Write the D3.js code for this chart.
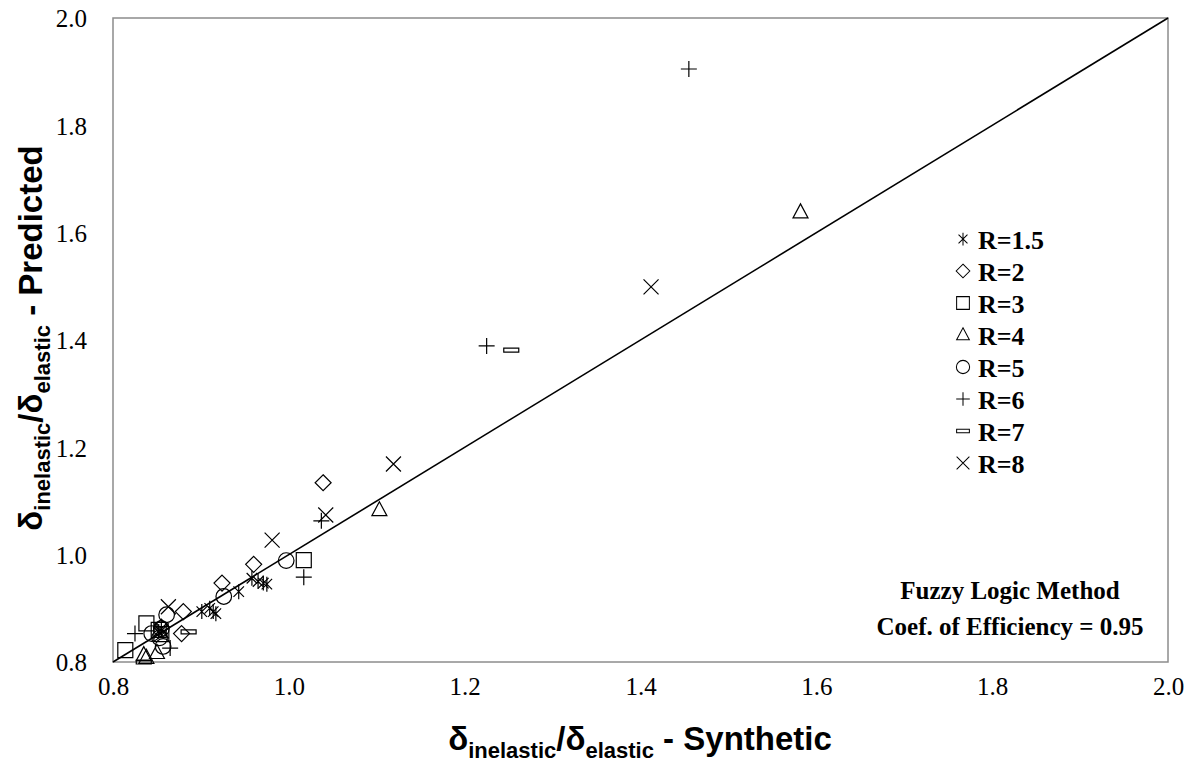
<!DOCTYPE html>
<html><head><meta charset="utf-8">
<script src="https://cdn.jsdelivr.net/npm/d3@7/dist/d3.min.js"></script>
<style>
html,body{margin:0;padding:0;background:#fff;}
svg{display:block;}
</style></head>
<body>
<svg id="chart" width="1193" height="765"></svg>
<script>
// ---- data ----
const tickValues = [0.8, 1.0, 1.2, 1.4, 1.6, 1.8, 2.0];
const seriesNames = ["R=1.5", "R=2", "R=3", "R=4", "R=5", "R=6", "R=7", "R=8"];
const seriesShapes = ["asterisk", "diamond", "square", "triangle", "circle", "plus", "dash", "cross"];
const r15 = [[0.958,0.956],[0.965,0.950],[0.971,0.947],[0.975,0.945],[0.943,0.931],[0.910,0.900],[0.901,0.894],[0.914,0.894],[0.917,0.890],[0.855,0.862],[0.852,0.857]];
const r2  = [[1.039,1.134],[0.960,0.982],[0.924,0.947],[0.880,0.894],[0.878,0.853],[0.855,0.865]];
const r3  = [[1.017,0.990],[0.838,0.872],[0.814,0.822],[0.852,0.860],[0.855,0.852]];
const r4  = [[1.582,1.638],[1.103,1.083],[0.835,0.813],[0.850,0.817],[0.838,0.808]];
const r5  = [[0.997,0.989],[0.926,0.922],[0.861,0.888],[0.844,0.853],[0.857,0.829],[0.855,0.862],[0.853,0.845]];
const r6  = [[1.455,1.905],[1.225,1.389],[1.037,1.063],[1.017,0.958],[0.825,0.853],[0.865,0.826]];
const r7  = [[1.253,1.381],[0.886,0.856],[0.835,0.800]];
const r8  = [[1.412,1.499],[1.119,1.169],[1.042,1.074],[0.981,1.027],[0.863,0.903],[0.855,0.858]];
const seriesValues = [r15, r2, r3, r4, r5, r6, r7, r8];
const lineOfEquality = [[0.8,0.8],[2.0,2.0]];
const annotation = ["Fuzzy Logic Method", "Coef. of Efficiency = 0.95"];

// ---- layout ----
const svg = d3.select("#chart");
const L = 113, R = 1168, T = 18, B = 662;
const x = d3.scaleLinear().domain([0.8, 2.0]).range([L, R]);
const y = d3.scaleLinear().domain([0.8, 2.0]).range([B, T]);
const serif = '"Liberation Serif","Times New Roman",serif';

function shapePath(s) {
  const p = d3.path();
  switch (s) {
    case "asterisk": {
      const a = 7.5;
      p.moveTo(-a*0.7,-a*0.7); p.lineTo(a*0.7,a*0.7);
      p.moveTo(a*0.7,-a*0.7); p.lineTo(-a*0.7,a*0.7);
      p.moveTo(0,-a); p.lineTo(0,a);
      break; }
    case "diamond": { const a = 8; p.moveTo(0,-a); p.lineTo(a,0); p.lineTo(0,a); p.lineTo(-a,0); p.closePath(); break; }
    case "square": { const a = 7.5; p.rect(-a,-a,2*a,2*a); break; }
    case "triangle": { const w = 7.5, h = 14; p.moveTo(0,-h*0.6); p.lineTo(w,h*0.4); p.lineTo(-w,h*0.4); p.closePath(); break; }
    case "circle": { p.arc(0,0,7.8,0,2*Math.PI); p.closePath(); break; }
    case "plus": { const a = 8; p.moveTo(-a,0); p.lineTo(a,0); p.moveTo(0,-a); p.lineTo(0,a); break; }
    case "dash": { p.rect(-7.5,-2,15,4); break; }
    case "cross": { const a = 7.5; p.moveTo(-a,-a); p.lineTo(a,a); p.moveTo(a,-a); p.lineTo(-a,a); break; }
  }
  return p.toString();
}

// axes (labels only)
const fmt = d3.format(".1f");
const xAxis = svg.append("g").attr("transform", `translate(0,${B})`)
  .call(d3.axisBottom(x).tickValues(tickValues).tickFormat(fmt).tickSize(0).tickPadding(15));
xAxis.select(".domain").remove();
xAxis.attr("font-family", serif).attr("font-size", 25);
xAxis.selectAll(".tick text").attr("fill", "#000");
const yAxis = svg.append("g").attr("transform", `translate(${L},0)`)
  .call(d3.axisLeft(y).tickValues(tickValues).tickFormat(fmt).tickSize(0).tickPadding(26));
yAxis.select(".domain").remove();
yAxis.attr("font-family", serif).attr("font-size", 25);
yAxis.selectAll(".tick text").attr("fill", "#000").attr("dy", "0.35em");

// plot frame
svg.append("rect").attr("x", L).attr("y", T).attr("width", R - L).attr("height", B - T)
  .attr("fill", "none").attr("stroke", "#8c8c8c").attr("stroke-width", 1.5);

// 1:1 line
svg.append("path").datum(lineOfEquality)
  .attr("d", d3.line().x(d => x(d[0])).y(d => y(d[1])))
  .attr("stroke", "#000").attr("stroke-width", 1.6).attr("fill", "none");

// points
const pts = svg.append("g");
seriesValues.forEach((vals, i) => {
  const shape = seriesShapes[i];
  pts.append("g").selectAll("path").data(vals).join("path")
    .attr("transform", d => `translate(${x(d[0])},${y(d[1])})`)
    .attr("d", shapePath(shape))
    .attr("fill", "none").attr("stroke", "#000").attr("stroke-width", 1.2);
});

// legend
const leg = svg.append("g").attr("transform", "translate(963,239)");
seriesNames.forEach((n, i) => {
  const g = leg.append("g").attr("transform", `translate(0,${i * 32})`);
  g.append("path").attr("d", shapePath(seriesShapes[i])).attr("transform", "scale(0.85)")
    .attr("fill", "none").attr("stroke", "#000").attr("stroke-width", 1.2);
  g.append("text").attr("x", 15).attr("y", 1).attr("dy", "0.35em")
    .style("font-family", serif)
    .style("font-weight", "bold").style("font-size", "26px").text(n);
});

// annotation
annotation.forEach((t, i) => {
  svg.append("text").attr("x", 1010).attr("y", 590 + i * 36).attr("dy", "0.35em")
    .attr("text-anchor", "middle")
    .style("font-family", serif)
    .style("font-weight", "bold").style("font-size", "25px").text(t);
});

// axis titles
const titleFont = '"Liberation Sans Narrow","Liberation Sans",Arial,sans-serif';
function axisTitle(g, suffix) {
  const t = g.append("text").attr("text-anchor", "middle")
    .style("font-family", titleFont).style("font-weight", "bold").style("font-size", "33px");
  t.append("tspan").text("δ");
  t.append("tspan").attr("dy", 8).style("font-size", "22px").text("inelastic");
  t.append("tspan").attr("dy", -8).text("/δ");
  t.append("tspan").attr("dy", 8).style("font-size", "22px").text("elastic");
  t.append("tspan").attr("dy", -8).text(" - " + suffix);
  return t;
}
axisTitle(svg.append("g").attr("transform", "translate(640,750)"), "Synthetic");
axisTitle(svg.append("g").attr("transform", "translate(42,338) rotate(-90)"), "Predicted");
</script>
</body></html>
